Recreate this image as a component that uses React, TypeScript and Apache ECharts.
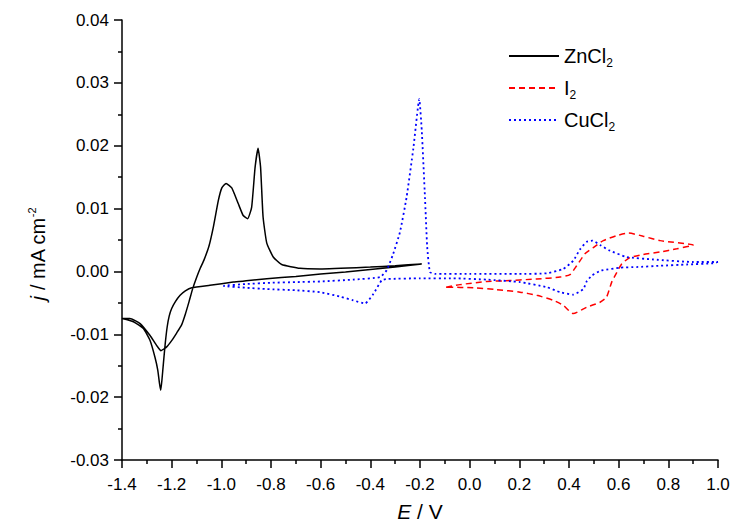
import React, { useEffect, useRef } from "react";
import * as echarts from "echarts";

// Cyclic voltammograms: [E / V, j / mA cm^-2], in sweep order
const zncl2: [number, number][] = [
  [-0.193, 0.0012], [-0.3, 0.0007], [-0.4, 0.0003], [-0.5, -0.0001], [-0.6, -0.0004],
  [-0.7, -0.0008], [-0.817, -0.00117], [-0.9, -0.0015], [-0.952, -0.0017], [-1.046, -0.0022],
  [-1.119, -0.0026], [-1.145, -0.0031], [-1.166, -0.0038], [-1.185, -0.0048], [-1.2, -0.0059],
  [-1.21, -0.0071], [-1.218, -0.0088], [-1.226, -0.0115], [-1.233, -0.0145],
  [-1.239, -0.0172], [-1.244, -0.0189], [-1.249, -0.0178], [-1.256, -0.0157], [-1.267, -0.0137],
  [-1.287, -0.011], [-1.314, -0.0091], [-1.354, -0.008], [-1.4, -0.0075],
  [-1.368, -0.0075], [-1.327, -0.0083], [-1.287, -0.0102], [-1.26, -0.0118], [-1.243, -0.0126],
  [-1.22, -0.012], [-1.2, -0.011], [-1.18, -0.0098], [-1.16, -0.0085], [-1.145, -0.0068],
  [-1.13, -0.0048], [-1.115, -0.0027], [-1.1, -0.001], [-1.085, 0.0005], [-1.07, 0.0018],
  [-1.05, 0.004], [-1.032, 0.0071], [-1.012, 0.0113], [-0.998, 0.0133],
  [-0.981, 0.014], [-0.958, 0.0133], [-0.932, 0.0108], [-0.912, 0.0089], [-0.894, 0.0084],
  [-0.878, 0.0102], [-0.864, 0.0166], [-0.852, 0.0196], [-0.842, 0.0166], [-0.832, 0.0087],
  [-0.817, 0.0045], [-0.791, 0.0023], [-0.757, 0.0011], [-0.683, 0.0005], [-0.603, 0.0004],
  [-0.4, 0.0007], [-0.3, 0.0009], [-0.193, 0.0012],
];

const i2: [number, number][] = [
  [-0.095, -0.0025], [-0.039, -0.0021], [0.069, -0.0016], [0.135, -0.0015], [0.27, -0.0012],
  [0.364, -0.0009], [0.404, -0.0005], [0.431, 0.0009], [0.464, 0.0028], [0.498, 0.0038],
  [0.538, 0.0049], [0.592, 0.0057], [0.639, 0.0061], [0.699, 0.0056], [0.767, 0.0049],
  [0.9, 0.0042],
  [0.834, 0.0036], [0.767, 0.0031], [0.699, 0.0027], [0.645, 0.0022], [0.612, 0.0012],
  [0.592, -0.0002], [0.572, -0.0017], [0.551, -0.0041], [0.525, -0.0049], [0.471, -0.0057],
  [0.417, -0.0067], [0.377, -0.0054], [0.337, -0.0046], [0.27, -0.0038], [0.203, -0.0033],
  [0.109, -0.0029], [0.015, -0.0026], [-0.095, -0.0025],
];

const cucl2: [number, number][] = [
  [1.0, 0.0015], [0.98, 0.0013], [0.874, 0.0011], [0.767, 0.0009], [0.672, 0.0007],
  [0.605, 0.0006], [0.538, 0.0002], [0.525, 0.0001], [0.491, -0.0007], [0.471, -0.0016],
  [0.458, -0.0028], [0.417, -0.0037], [0.364, -0.0033], [0.31, -0.0025], [0.203, -0.0017],
  [0.069, -0.0013], [-0.066, -0.0011], [-0.2, -0.0011], [-0.329, -0.0012], [-0.354, -0.0014],
  [-0.388, -0.0036], [-0.421, -0.0051], [-0.469, -0.0046], [-0.522, -0.004], [-0.603, -0.0033],
  [-0.7, -0.003], [-0.817, -0.0028], [-0.9, -0.0026], [-0.99, -0.0023],
  [-0.9, -0.002], [-0.8, -0.0018], [-0.7, -0.0017], [-0.603, -0.0016], [-0.469, -0.0013],
  [-0.361, -0.0009], [-0.334, 0.0002], [-0.308, 0.0028], [-0.281, 0.0062], [-0.254, 0.0118],
  [-0.227, 0.0195], [-0.203, 0.0274], [-0.193, 0.0225], [-0.18, 0.0118], [-0.171, 0.0039],
  [-0.16, -0.0001], [-0.14, -0.0004], [0.0, -0.0004], [0.2, -0.0004], [0.31, -0.0003],
  [0.377, 0.0004], [0.417, 0.0017], [0.444, 0.0035], [0.471, 0.0047], [0.495, 0.0049],
  [0.525, 0.0042], [0.565, 0.0033], [0.632, 0.0023], [0.74, 0.0019], [0.9, 0.0015],
  [1.0, 0.0015],
];

const seriesNames = ["ZnCl2", "I2", "CuCl2"];
const xRange = { min: -1.4, max: 1.0, interval: 0.2 };
const yRange = { min: -0.03, max: 0.04, interval: 0.01 };

const FONT = 'Arial, "Liberation Sans", sans-serif';

export default function App() {
  const ref = useRef<HTMLDivElement>(null);
  useEffect(() => {
    document.body.style.margin = "0";
    if (!ref.current) return;
    const chart = echarts.init(ref.current, null, { renderer: "svg" });
    const axisCommon = {
      axisLine: { show: true, onZero: false, lineStyle: { color: "#000", width: 1.5 } },
      axisTick: { show: true, inside: false, length: 8, lineStyle: { color: "#000", width: 1.5 } },
      minorTick: { show: true, splitNumber: 2, length: 4, lineStyle: { color: "#000", width: 1.5 } },
      splitLine: { show: false },
      minorSplitLine: { show: false },
    };
    chart.setOption({
      animation: false,
      backgroundColor: "#fff",
      textStyle: { fontFamily: FONT, color: "#000" },
      grid: { left: 122, right: 16, top: 20, bottom: 62, containLabel: false, outerBoundsMode: "none" },
      legend: {
        orient: "vertical",
        left: 503,
        top: 38,
        itemWidth: 50,
        itemHeight: 14,
        itemGap: 6,
        data: seriesNames,
        itemStyle: { opacity: 0, color: "transparent", borderWidth: 0 },
        formatter: (name: string) => name.replace("2", "{sub|2}"),
        textStyle: {
          fontFamily: FONT,
          fontSize: 20,
          color: "#000",
          lineHeight: 26,
          rich: {
            sub: { fontFamily: FONT, fontSize: 12, color: "#000", lineHeight: 8, verticalAlign: "bottom" },
          },
        },
      },
      xAxis: {
        type: "value",
        ...xRange,
        ...axisCommon,
        axisLabel: {
          color: "#000",
          fontFamily: FONT,
          fontSize: 17,
          margin: 16,
          formatter: (v: number) => v.toFixed(1),
        },
        name: "{i|E} / V",
        nameLocation: "middle",
        nameGap: 41,
        nameTextStyle: {
          fontFamily: FONT,
          fontSize: 21,
          lineHeight: 20,
          color: "#000",
          rich: { i: { fontFamily: FONT, fontSize: 21, lineHeight: 20, fontStyle: "italic", color: "#000" } },
        },
      },
      yAxis: {
        type: "value",
        ...yRange,
        ...axisCommon,
        axisLabel: {
          color: "#000",
          fontFamily: FONT,
          fontSize: 17,
          margin: 13,
          formatter: (v: number) => v.toFixed(2),
        },
        name: "{i|j} / mA cm{sup|-2}",
        nameLocation: "middle",
        nameRotate: 90,
        nameGap: 72,
        nameTextStyle: {
          fontFamily: FONT,
          fontSize: 20,
          color: "#000",
          lineHeight: 24,
          padding: [0, 28, 0, 0],
          rich: {
            i: { fontFamily: FONT, fontSize: 20, fontStyle: "italic", color: "#000", lineHeight: 24 },
            sup: { fontFamily: FONT, fontSize: 11, color: "#000", lineHeight: 12, verticalAlign: "top" },
          },
        },
      },
      series: [
        {
          name: seriesNames[0],
          type: "line",
          data: zncl2,
          showSymbol: false,
          symbol: "none",
          smooth: 0.15,
          lineStyle: { color: "#000", width: 1.5, type: "solid" },
          itemStyle: { color: "#000" },
        },
        {
          name: seriesNames[1],
          type: "line",
          data: i2,
          showSymbol: false,
          symbol: "none",
          smooth: 0.2,
          lineStyle: { color: "#ff0000", width: 1.5, type: [6, 4] },
          itemStyle: { color: "#ff0000" },
        },
        {
          name: seriesNames[2],
          type: "line",
          data: cucl2,
          showSymbol: false,
          symbol: "none",
          smooth: 0.15,
          lineStyle: { color: "#0000ff", width: 1.8, type: [2, 3] },
          itemStyle: { color: "#0000ff" },
        },
      ],
    });
    return () => chart.dispose();
  }, []);
  return <div ref={ref} style={{ width: 734, height: 522 }} />;
}
